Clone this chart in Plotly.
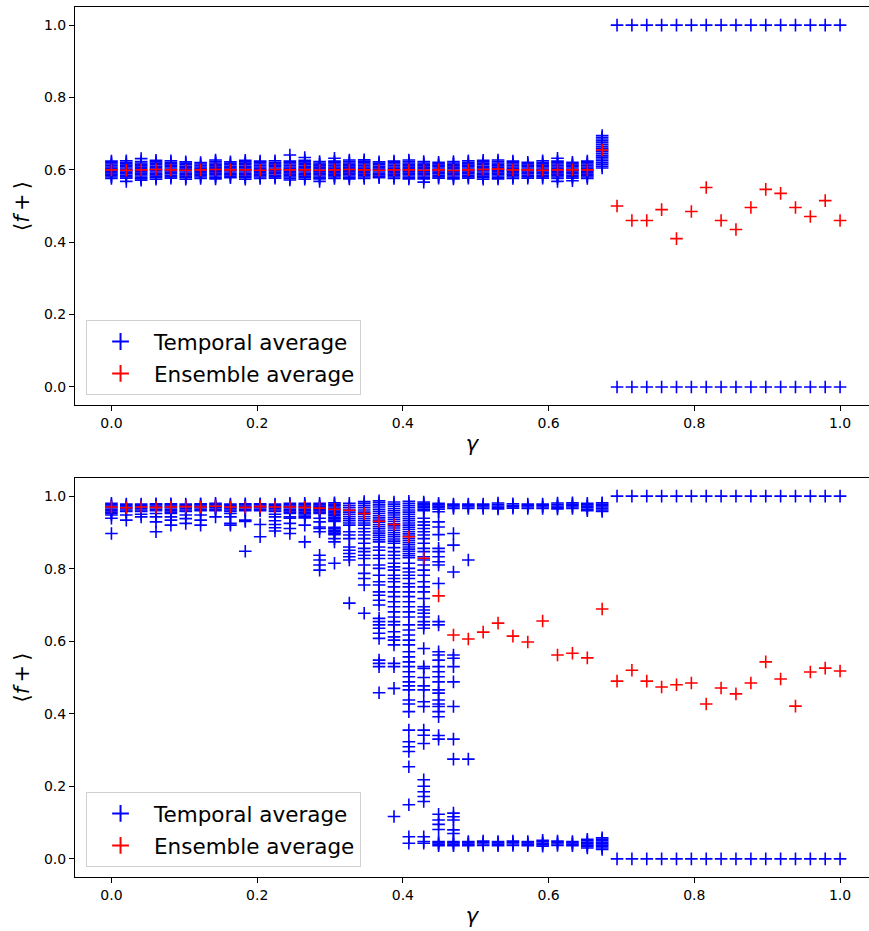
import plotly.graph_objects as go

GAMMA = [0.0, 0.0204, 0.0408, 0.0612, 0.0816, 0.1020, 0.1224, 0.1429, 0.1633, 0.1837,
         0.2041, 0.2245, 0.2449, 0.2653, 0.2857, 0.3061, 0.3265, 0.3469, 0.3673, 0.3878,
         0.4082, 0.4286, 0.4490, 0.4694, 0.4898, 0.5102, 0.5306, 0.5510, 0.5714, 0.5918,
         0.6122, 0.6327, 0.6531, 0.6735, 0.6939, 0.7143, 0.7347, 0.7551, 0.7755, 0.7959,
         0.8163, 0.8367, 0.8571, 0.8776, 0.8980, 0.9184, 0.9388, 0.9592, 0.9796, 1.0]

# Top panel: temporal averages per gamma
TOP_TEMPORAL = [
    [0.576, 0.58, 0.584, 0.588, 0.592, 0.596, 0.6, 0.604, 0.608, 0.612, 0.616, 0.62, 0.624],
    [0.568, 0.577, 0.581, 0.585, 0.589, 0.593, 0.597, 0.601, 0.605, 0.609, 0.613, 0.617, 0.621, 0.625],
    [0.571, 0.575, 0.579, 0.583, 0.587, 0.591, 0.595, 0.599, 0.603, 0.607, 0.611, 0.615, 0.619, 0.623, 0.631],
    [0.574, 0.578, 0.582, 0.586, 0.59, 0.594, 0.598, 0.602, 0.606, 0.61, 0.614, 0.618, 0.622, 0.626],
    [0.577, 0.581, 0.585, 0.589, 0.593, 0.597, 0.601, 0.605, 0.609, 0.613, 0.617, 0.621, 0.625],
    [0.574, 0.578, 0.582, 0.586, 0.59, 0.594, 0.598, 0.602, 0.606, 0.61, 0.614, 0.618, 0.622],
    [0.576, 0.58, 0.584, 0.588, 0.592, 0.596, 0.6, 0.604, 0.608, 0.612, 0.616, 0.62],
    [0.575, 0.579, 0.583, 0.587, 0.591, 0.595, 0.599, 0.603, 0.607, 0.611, 0.615, 0.619, 0.623, 0.627],
    [0.578, 0.582, 0.586, 0.59, 0.594, 0.598, 0.602, 0.606, 0.61, 0.614, 0.618, 0.622],
    [0.574, 0.578, 0.582, 0.586, 0.59, 0.594, 0.598, 0.602, 0.606, 0.61, 0.614, 0.618, 0.622, 0.626],
    [0.576, 0.58, 0.584, 0.588, 0.592, 0.596, 0.6, 0.604, 0.608, 0.612, 0.616, 0.62, 0.624],
    [0.577, 0.581, 0.585, 0.589, 0.593, 0.597, 0.601, 0.605, 0.609, 0.613, 0.617, 0.621, 0.625],
    [0.572, 0.576, 0.58, 0.584, 0.588, 0.592, 0.596, 0.6, 0.604, 0.608, 0.612, 0.616, 0.62, 0.624, 0.641],
    [0.574, 0.578, 0.582, 0.586, 0.59, 0.594, 0.598, 0.602, 0.606, 0.61, 0.614, 0.618, 0.622, 0.626, 0.634],
    [0.568, 0.575, 0.579, 0.583, 0.587, 0.591, 0.595, 0.599, 0.603, 0.607, 0.611, 0.615, 0.619, 0.623],
    [0.576, 0.58, 0.584, 0.588, 0.592, 0.596, 0.6, 0.604, 0.608, 0.612, 0.616, 0.62, 0.624, 0.632],
    [0.575, 0.579, 0.583, 0.587, 0.591, 0.595, 0.599, 0.603, 0.607, 0.611, 0.615, 0.619, 0.623, 0.627],
    [0.576, 0.58, 0.584, 0.588, 0.592, 0.596, 0.6, 0.604, 0.608, 0.612, 0.616, 0.62, 0.624, 0.628],
    [0.578, 0.582, 0.586, 0.59, 0.594, 0.598, 0.602, 0.606, 0.61, 0.614, 0.618, 0.622],
    [0.576, 0.58, 0.584, 0.588, 0.592, 0.596, 0.6, 0.604, 0.608, 0.612, 0.616, 0.62, 0.624],
    [0.575, 0.579, 0.583, 0.587, 0.591, 0.595, 0.599, 0.603, 0.607, 0.611, 0.615, 0.619, 0.623, 0.627],
    [0.566, 0.575, 0.579, 0.583, 0.587, 0.591, 0.595, 0.599, 0.603, 0.607, 0.611, 0.615, 0.619, 0.623],
    [0.577, 0.581, 0.585, 0.589, 0.593, 0.597, 0.601, 0.605, 0.609, 0.613, 0.617, 0.621],
    [0.575, 0.579, 0.583, 0.587, 0.591, 0.595, 0.599, 0.603, 0.607, 0.611, 0.615, 0.619, 0.623],
    [0.577, 0.581, 0.585, 0.589, 0.593, 0.597, 0.601, 0.605, 0.609, 0.613, 0.617, 0.621, 0.625],
    [0.574, 0.578, 0.582, 0.586, 0.59, 0.594, 0.598, 0.602, 0.606, 0.61, 0.614, 0.618, 0.622, 0.626],
    [0.575, 0.579, 0.583, 0.587, 0.591, 0.595, 0.599, 0.603, 0.607, 0.611, 0.615, 0.619, 0.623, 0.627],
    [0.576, 0.58, 0.584, 0.588, 0.592, 0.596, 0.6, 0.604, 0.608, 0.612, 0.616, 0.62, 0.624],
    [0.577, 0.581, 0.585, 0.589, 0.593, 0.597, 0.601, 0.605, 0.609, 0.613, 0.617, 0.621],
    [0.577, 0.581, 0.585, 0.589, 0.593, 0.597, 0.601, 0.605, 0.609, 0.613, 0.617, 0.621, 0.625],
    [0.568, 0.576, 0.58, 0.584, 0.588, 0.592, 0.596, 0.6, 0.604, 0.608, 0.612, 0.616, 0.62, 0.624, 0.632],
    [0.57, 0.577, 0.581, 0.585, 0.589, 0.593, 0.597, 0.601, 0.605, 0.609, 0.613, 0.617, 0.621],
    [0.576, 0.58, 0.584, 0.588, 0.592, 0.596, 0.6, 0.604, 0.608, 0.612, 0.616, 0.62, 0.624],
    [0.605, 0.61, 0.615, 0.62, 0.625, 0.63, 0.635, 0.64, 0.645, 0.65, 0.655, 0.66, 0.665, 0.67,
     0.675, 0.68, 0.685, 0.69, 0.695],
    [0.0, 1.0], [0.0, 1.0], [0.0, 1.0], [0.0, 1.0], [0.0, 1.0], [0.0, 1.0], [0.0, 1.0], [0.0, 1.0],
    [0.0, 1.0], [0.0, 1.0], [0.0, 1.0], [0.0, 1.0], [0.0, 1.0], [0.0, 1.0], [0.0, 1.0], [0.0, 1.0],
]

TOP_ENSEMBLE = [0.600, 0.599, 0.600, 0.601, 0.600, 0.599, 0.600, 0.601, 0.600, 0.600,
                0.599, 0.601, 0.600, 0.600, 0.599, 0.600, 0.601, 0.600, 0.599, 0.600,
                0.600, 0.599, 0.600, 0.598, 0.600, 0.601, 0.602, 0.600, 0.600, 0.599,
                0.600, 0.600, 0.600, 0.655, 0.500, 0.460, 0.460, 0.490, 0.410, 0.485,
                0.551, 0.460, 0.435, 0.496, 0.546, 0.535, 0.496, 0.471, 0.515, 0.460]

# Bottom panel: temporal averages per gamma
BOTTOM_TEMPORAL = [
    [0.897, 0.939, 0.948, 0.952, 0.956, 0.96, 0.964, 0.968, 0.972, 0.976, 0.98],
    [0.934, 0.948, 0.958, 0.962, 0.966, 0.97, 0.974, 0.978],
    [0.943, 0.95, 0.958, 0.962, 0.966, 0.97, 0.974, 0.978],
    [0.902, 0.929, 0.943, 0.952, 0.96, 0.964, 0.968, 0.972, 0.976, 0.979],
    [0.92, 0.934, 0.943, 0.952, 0.956, 0.96, 0.964, 0.968, 0.972, 0.976, 0.979],
    [0.925, 0.938, 0.948, 0.958, 0.962, 0.966, 0.97, 0.974, 0.978],
    [0.92, 0.934, 0.948, 0.96, 0.964, 0.968, 0.972, 0.976, 0.979],
    [0.943, 0.96, 0.964, 0.968, 0.972, 0.976, 0.98],
    [0.92, 0.925, 0.943, 0.952, 0.958, 0.962, 0.966, 0.97, 0.974, 0.978],
    [0.848, 0.93, 0.934, 0.96, 0.964, 0.968, 0.972, 0.976, 0.979],
    [0.888, 0.922, 0.96, 0.964, 0.968, 0.972, 0.976, 0.979],
    [0.904, 0.913, 0.922, 0.932, 0.943, 0.95, 0.958, 0.962, 0.966, 0.97, 0.974, 0.978],
    [0.897, 0.911, 0.925, 0.939, 0.943, 0.952, 0.956, 0.96, 0.964, 0.968, 0.972, 0.976, 0.98],
    [0.874, 0.92, 0.94, 0.944, 0.948, 0.952, 0.956, 0.96, 0.964, 0.968, 0.972, 0.976, 0.98],
    [0.796, 0.81, 0.824, 0.837, 0.902, 0.911, 0.915, 0.929, 0.939, 0.952, 0.956, 0.96, 0.964,
     0.968, 0.972, 0.976, 0.98],
    [0.815, 0.874, 0.883, 0.894, 0.898, 0.902, 0.906, 0.91, 0.914, 0.93, 0.934, 0.938, 0.942,
     0.946, 0.95, 0.954, 0.958, 0.962, 0.966, 0.97, 0.974, 0.978, 0.982],
    [0.705, 0.824, 0.833, 0.842, 0.851, 0.86, 0.883, 0.893, 0.902, 0.92, 0.926, 0.932, 0.938,
     0.944, 0.95, 0.956, 0.962, 0.968, 0.974, 0.98],
    [0.677, 0.755, 0.773, 0.787, 0.81, 0.828, 0.837, 0.847, 0.856, 0.87, 0.883, 0.893, 0.902,
     0.911, 0.92, 0.926, 0.932, 0.938, 0.944, 0.95, 0.956, 0.962, 0.968, 0.974, 0.98, 0.985],
    [0.458, 0.53, 0.539, 0.548, 0.608, 0.622, 0.636, 0.645, 0.654, 0.663, 0.700, 0.713, 0.727,
     0.736, 0.755, 0.764, 0.782, 0.801, 0.81, 0.828, 0.837, 0.851, 0.86, 0.874, 0.88, 0.886,
     0.892, 0.898, 0.904, 0.91, 0.916, 0.922, 0.928, 0.934, 0.94, 0.946, 0.952, 0.958, 0.964,
     0.97, 0.976, 0.982, 0.987],
    [0.117, 0.47, 0.53, 0.539, 0.59, 0.603, 0.612, 0.626, 0.645, 0.654, 0.667, 0.681, 0.695,
     0.709, 0.723, 0.736, 0.75, 0.764, 0.773, 0.782, 0.796, 0.805, 0.815, 0.828, 0.837, 0.847,
     0.858, 0.87, 0.876, 0.882, 0.888, 0.894, 0.9, 0.906, 0.912, 0.918, 0.924, 0.93, 0.936,
     0.942, 0.948, 0.954, 0.96, 0.966, 0.972, 0.978, 0.984],
    [0.043, 0.061, 0.149, 0.254, 0.296, 0.309, 0.323, 0.355, 0.406, 0.427, 0.438, 0.466, 0.477,
     0.488, 0.502, 0.516, 0.53, 0.543, 0.557, 0.571, 0.59, 0.603, 0.617, 0.631, 0.645, 0.667,
     0.681, 0.695, 0.709, 0.723, 0.736, 0.75, 0.759, 0.773, 0.782, 0.791, 0.801, 0.815, 0.83,
     0.836, 0.842, 0.848, 0.854, 0.86, 0.866, 0.872, 0.878, 0.884, 0.89, 0.896, 0.902, 0.908,
     0.914, 0.92, 0.926, 0.932, 0.938, 0.944, 0.95, 0.956, 0.962, 0.968, 0.974, 0.98, 0.986],
    [0.043, 0.048, 0.061, 0.158, 0.172, 0.185, 0.2, 0.218, 0.318, 0.341, 0.355, 0.42, 0.433,
     0.466, 0.477, 0.5, 0.525, 0.53, 0.58, 0.636, 0.645, 0.654, 0.667, 0.677, 0.686, 0.695,
     0.718, 0.736, 0.75, 0.764, 0.782, 0.796, 0.81, 0.824, 0.833, 0.847, 0.856, 0.87, 0.883,
     0.893, 0.902, 0.911, 0.92, 0.929, 0.939, 0.96, 0.964, 0.968, 0.972, 0.976, 0.98, 0.984],
    [0.036, 0.04, 0.044, 0.048, 0.081, 0.095, 0.107, 0.123, 0.33, 0.34, 0.392, 0.406, 0.42,
     0.427, 0.438, 0.457, 0.466, 0.488, 0.502, 0.516, 0.53, 0.548, 0.562, 0.571, 0.645, 0.654,
     0.759, 0.81, 0.819, 0.833, 0.847, 0.856, 0.894, 0.915, 0.929, 0.957, 0.964, 0.968, 0.972,
     0.976, 0.98],
    [0.036, 0.04, 0.044, 0.048, 0.07, 0.08, 0.107, 0.116, 0.126, 0.275, 0.33, 0.42, 0.488, 0.53,
     0.553, 0.562, 0.791, 0.865, 0.897, 0.966, 0.97, 0.974, 0.978],
    [0.036, 0.04, 0.044, 0.048, 0.275, 0.824, 0.966, 0.97, 0.974, 0.978],
    [0.037, 0.041, 0.045, 0.049, 0.966, 0.97, 0.974, 0.978],
    [0.036, 0.04, 0.044, 0.048, 0.965, 0.969, 0.973, 0.977, 0.981],
    [0.037, 0.041, 0.045, 0.049, 0.967, 0.971, 0.975, 0.979],
    [0.036, 0.04, 0.044, 0.048, 0.966, 0.97, 0.974, 0.978],
    [0.035, 0.039, 0.043, 0.047, 0.051, 0.966, 0.97, 0.974, 0.978],
    [0.037, 0.041, 0.045, 0.049, 0.965, 0.969, 0.973, 0.977, 0.981],
    [0.036, 0.04, 0.044, 0.048, 0.966, 0.97, 0.974, 0.978, 0.982],
    [0.03, 0.034, 0.038, 0.042, 0.046, 0.05, 0.054, 0.96, 0.964, 0.968, 0.972, 0.976, 0.98],
    [0.026, 0.03, 0.034, 0.038, 0.042, 0.046, 0.05, 0.054, 0.058, 0.958, 0.962, 0.966, 0.97,
     0.974, 0.978, 0.982],
    [0.0, 1.0], [0.0, 1.0], [0.0, 1.0], [0.0, 1.0], [0.0, 1.0], [0.0, 1.0], [0.0, 1.0], [0.0, 1.0],
    [0.0, 1.0], [0.0, 1.0], [0.0, 1.0], [0.0, 1.0], [0.0, 1.0], [0.0, 1.0], [0.0, 1.0], [0.0, 1.0],
]

BOTTOM_ENSEMBLE = [0.970, 0.968, 0.970, 0.969, 0.970, 0.971, 0.970, 0.972, 0.970, 0.969,
                   0.971, 0.970, 0.970, 0.969, 0.967, 0.964, 0.961, 0.952, 0.931, 0.922,
                   0.888, 0.829, 0.725, 0.617, 0.606, 0.625, 0.650, 0.614, 0.598, 0.656,
                   0.562, 0.567, 0.554, 0.689, 0.490, 0.520, 0.490, 0.474, 0.480, 0.485,
                   0.427, 0.471, 0.455, 0.485, 0.543, 0.496, 0.421, 0.515, 0.526, 0.518]

TICKS = [0.0, 0.2, 0.4, 0.6, 0.8, 1.0]
TICK_LABELS = ["0.0", "0.2", "0.4", "0.6", "0.8", "1.0"]
LEGEND_NAMES = ["Temporal average", "Ensemble average"]

FONT = "DejaVu Sans"
BLUE = "#0000ff"
RED = "#ff0000"


def flatten(cols):
    xs, ys = [], []
    for g, vals in zip(GAMMA, cols):
        for v in vals:
            xs.append(g)
            ys.append(v)
    return xs, ys


def marker(color):
    return dict(symbol="cross-thin", size=9, color=color,
                line=dict(width=1.6, color=color))


fig = go.Figure()

for panel, (temporal, ensemble) in enumerate([(TOP_TEMPORAL, TOP_ENSEMBLE),
                                              (BOTTOM_TEMPORAL, BOTTOM_ENSEMBLE)]):
    xa = "x" if panel == 0 else "x2"
    ya = "y" if panel == 0 else "y2"
    lg = "legend" if panel == 0 else "legend2"
    tx, ty = flatten(temporal)
    fig.add_trace(go.Scatter(x=tx, y=ty, mode="markers", marker=marker(BLUE),
                             name=LEGEND_NAMES[0], xaxis=xa, yaxis=ya, legend=lg,
                             legendgroup=f"t{panel}"))
    fig.add_trace(go.Scatter(x=GAMMA, y=ensemble, mode="markers", marker=marker(RED),
                             name=LEGEND_NAMES[1], xaxis=xa, yaxis=ya, legend=lg,
                             legendgroup=f"e{panel}"))

axis_common = dict(
    tickmode="array", tickvals=TICKS, ticktext=TICK_LABELS,
    ticks="outside", ticklen=5, tickwidth=1, tickcolor="black",
    showline=True, linecolor="black", linewidth=1, showgrid=False, zeroline=False,
    tickfont=dict(family=FONT, size=14, color="black"), automargin=False,
)

XR = [-0.05, 1.0397]
YR = [-0.05, 1.05]
title_font = dict(family=FONT, size=21, color="black")
YTITLE = "⟨<i>f</i>\u2009+\u2009⟩"
XTITLE = "<i>γ</i>"

legend_common = dict(
    xanchor="left", yanchor="bottom",
    bgcolor="rgba(255,255,255,0.8)", bordercolor="#d0d0d0", borderwidth=1,
    font=dict(family=FONT, size=21.5, color="black"), itemsizing="constant",
    itemwidth=57, tracegroupgap=1,
)

fig.update_layout(
    width=869, height=931,
    margin=dict(l=75, r=0, t=7, b=54),
    paper_bgcolor="white", plot_bgcolor="white",
    font=dict(family=FONT, color="black"),
    xaxis=dict(axis_common, range=XR, domain=[0, 1], anchor="y", mirror=True,
               title=dict(text=XTITLE, font=title_font, standoff=6)),
    yaxis=dict(axis_common, range=YR, domain=[0.5425, 1.0], anchor="x",
               title=dict(text=YTITLE, font=title_font, standoff=8)),
    xaxis2=dict(axis_common, range=XR, domain=[0, 1], anchor="y2", mirror=True,
                title=dict(text=XTITLE, font=title_font, standoff=6)),
    yaxis2=dict(axis_common, range=YR, domain=[0.0, 0.4586], anchor="x2",
                title=dict(text=YTITLE, font=title_font, standoff=8)),
    legend=dict(legend_common, x=0.0139, y=0.554),
    legend2=dict(legend_common, x=0.0139, y=0.0115),
    showlegend=True,
)

fig.write_html("out.html",
               config={"displayModeBar": False},
               post_script="document.body.style.margin='0px';"
                           "document.body.style.overflow='hidden';")
